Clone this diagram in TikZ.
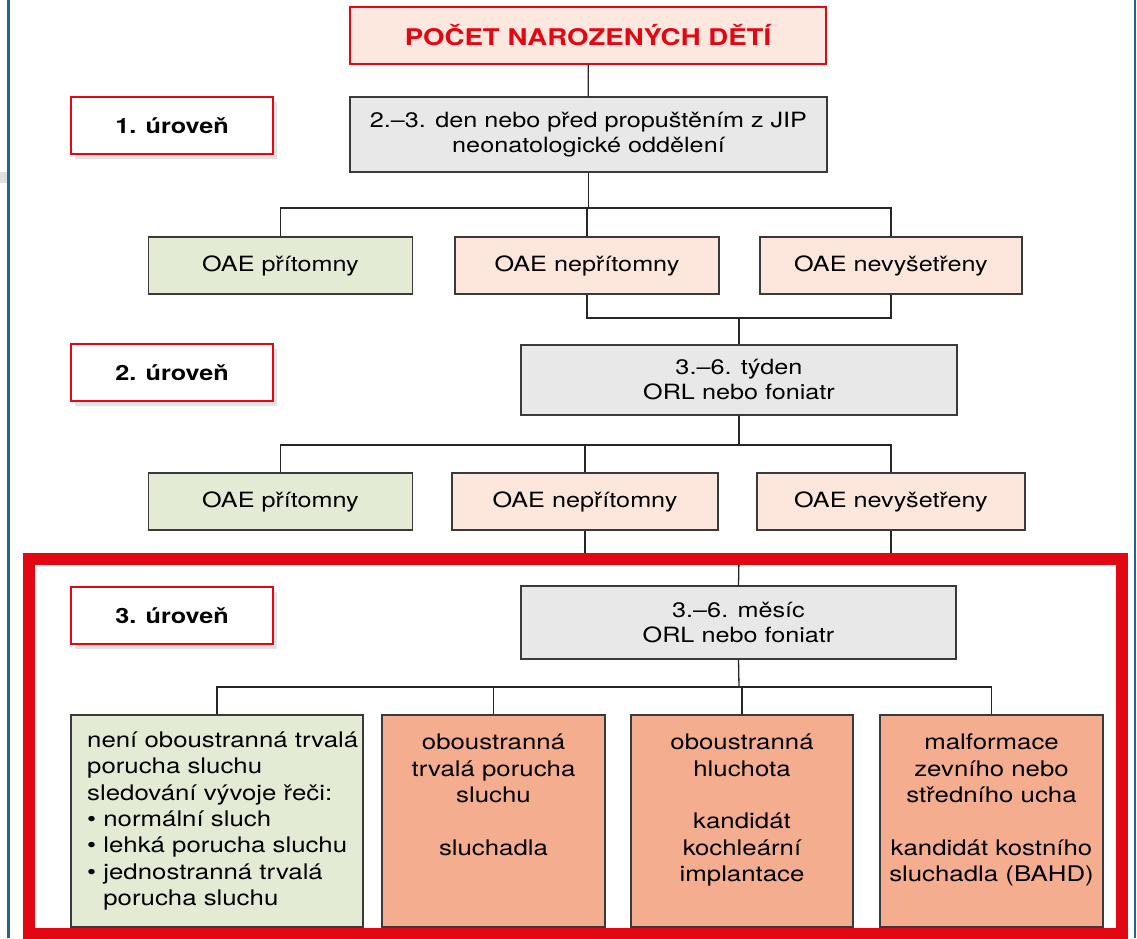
\documentclass[tikz,border=0pt]{standalone}
\usepackage{fontspec}
\setmainfont{TeX Gyre Heros}[FakeStretch=1.2]
\usetikzlibrary{shadows}
\definecolor{redc}{HTML}{E30613}
\definecolor{titlefill}{HTML}{FDE8DF}
\definecolor{grayfill}{HTML}{E8E8E8}
\definecolor{greenfill}{HTML}{E3EBD5}
\definecolor{pinkfill}{HTML}{FDE6DB}
\definecolor{salmonfill}{HTML}{F4AE8F}
\definecolor{boxborder}{HTML}{3A3A3A}
\definecolor{bluec}{HTML}{23638F}
\tikzset{
  base/.style={draw=boxborder, line width=1.3pt, inner sep=0pt, align=center,
    font=\fontsize{21}{25}\selectfont},
  graybox/.style={base, fill=grayfill},
  greenbox/.style={base, fill=greenfill, minimum width=264pt, minimum height=57pt},
  pinkbox/.style={base, fill=pinkfill, minimum width=264pt, minimum height=57pt},
  bigbox/.style={base, minimum height=212pt, font=\fontsize{21.5}{26.3}\selectfont},
  levelbox/.style={draw=redc, line width=1.4pt, fill=white, inner sep=0pt,
    minimum width=202pt, minimum height=57pt, font=\bfseries\fontsize{21}{25}\selectfont,
    drop shadow={opacity=0.22, shadow xshift=4pt, shadow yshift=-5pt}},
  titlebox/.style={draw=redc, line width=1.4pt, fill=titlefill, inner sep=0pt,
    minimum width=476pt, minimum height=57pt, text=redc,
    font=\bfseries\fontsize{23}{27}\selectfont},
  conn/.style={draw=black!85, line width=1.3pt},
  frame/.style={draw=redc, line width=12pt},
  edge line/.style={draw=bluec, line width=2.4pt}
}
\begin{document}
\begin{tikzpicture}[x=1pt, y=-1pt]
\useasboundingbox (0,0) rectangle (1137,938);
% side lines
\draw[edge line] (8.3,0) coordinate (el0) -- (8.3,938) coordinate (el1);
\draw[edge line] (1135,0) coordinate (er0) -- (1135,938) coordinate (er1);
\fill[black!12] (0,172) rectangle (7,183);

% title and level 1
\node[titlebox] (title) at (588,35.5) {POČET NAROZENÝCH DĚTÍ};
\node[levelbox] (l1) at (172,125.5) {1. úroveň};
\node[graybox, minimum width=477pt, minimum height=75pt] (g1) at (588.5,134.5)
  {2.–3. den nebo před propuštěním z JIP\\neonatologické oddělení};

% row 1
\node[greenbox] (a1) at (280.5,265.5) {OAE přítomny};
\node[pinkbox] (b1) at (587,265.5) {OAE nepřítomny};
\node[pinkbox, minimum width=262pt] (c1) at (891,265.5) {OAE nevyšetřeny};

% level 2
\node[levelbox] (l2) at (172,372.5) {2. úroveň};
\node[graybox, minimum width=436pt, minimum height=70pt] (g2) at (739,380)
  {3.–6. týden\\ORL nebo foniatr};

% row 2
\node[greenbox] (a2) at (280.5,501.5) {OAE přítomny};
\node[pinkbox, minimum width=266pt] (b2) at (585,501.5) {OAE nepřítomny};
\node[pinkbox, minimum width=268pt] (c2) at (891,501.5) {OAE nevyšetřeny};

% level 3
\node[levelbox] (l3) at (172,615.5) {3. úroveň};
\node[graybox, minimum width=435pt, minimum height=73pt] (g3) at (738.5,622.5)
  {3.–6. měsíc\\ORL nebo foniatr};

% bottom row
\node[bigbox, fill=greenfill, minimum width=292pt] (d1) at (217,821) {};
\node[anchor=west, align=left, inner sep=0pt, font=\fontsize{21.5}{26.3}\selectfont] (d1t) at (87,821)
  {není oboustranná trvalá\\porucha sluchu\\sledování vývoje řeči:\\\textbullet\ normální sluch\\
   \textbullet\ lehká porucha sluchu\\\textbullet\ jednostranná trvalá\\\phantom{\textbullet\ }porucha sluchu};
\node[bigbox, fill=salmonfill, minimum width=223pt] (d2) at (493.5,821)
  {oboustranná\\trvalá porucha\\sluchu\\[26.3pt]sluchadla\\[26.3pt]~};
\node[bigbox, fill=salmonfill, minimum width=222pt] (d3) at (742,821)
  {oboustranná\\hluchota\\[26.3pt]kandidát\\kochleární\\implantace\\~};
\node[bigbox, fill=salmonfill, minimum width=223pt] (d4) at (991.5,821)
  {malformace\\zevního nebo\\středního ucha\\[26.3pt]kandidát kostního\\sluchadla (BAHD)\\~};

% junction coordinates
\coordinate (j1) at (588,208);
\coordinate (m1) at (739,318);
\coordinate (j2) at (739,445);
\coordinate (m2) at (739,558);
\coordinate (j3) at (739,687);

% connectors
\draw[conn] (title) -- (g1);
\draw[conn] (g1.south) -- (g1.south |- j1);
\draw[conn] (a1.north) |- (j1) -| (c1.north);
\draw[conn] (b1.north) -- (b1.north |- j1);
\draw[conn] (b1.south) |- (m1) -| (c1.south);
\draw[conn] (m1) -- (g2.north);
\draw[conn] (g2.south) -- (j2);
\draw[conn] (a2.north) |- (j2) -| (c2.north);
\draw[conn] (b2.north) -- (b2.north |- j2);
\draw[conn] (b2.south) |- (m2) -| (c2.south);
\draw[conn] (m2) -- (g3.north);
\draw[conn] (g3.south) -- (j3);
\draw[conn] (d1.north) |- (j3) -| (d4.north);
\draw[conn] (d2.north) -- (d2.north |- j3);
\draw[conn] (d3.north) -- (d3.north |- j3);

% red frame
\coordinate (f1) at (28.5,559);
\coordinate (f2) at (1121.5,934);
\draw[frame] (f1) rectangle (f2);
\end{tikzpicture}
\end{document}
